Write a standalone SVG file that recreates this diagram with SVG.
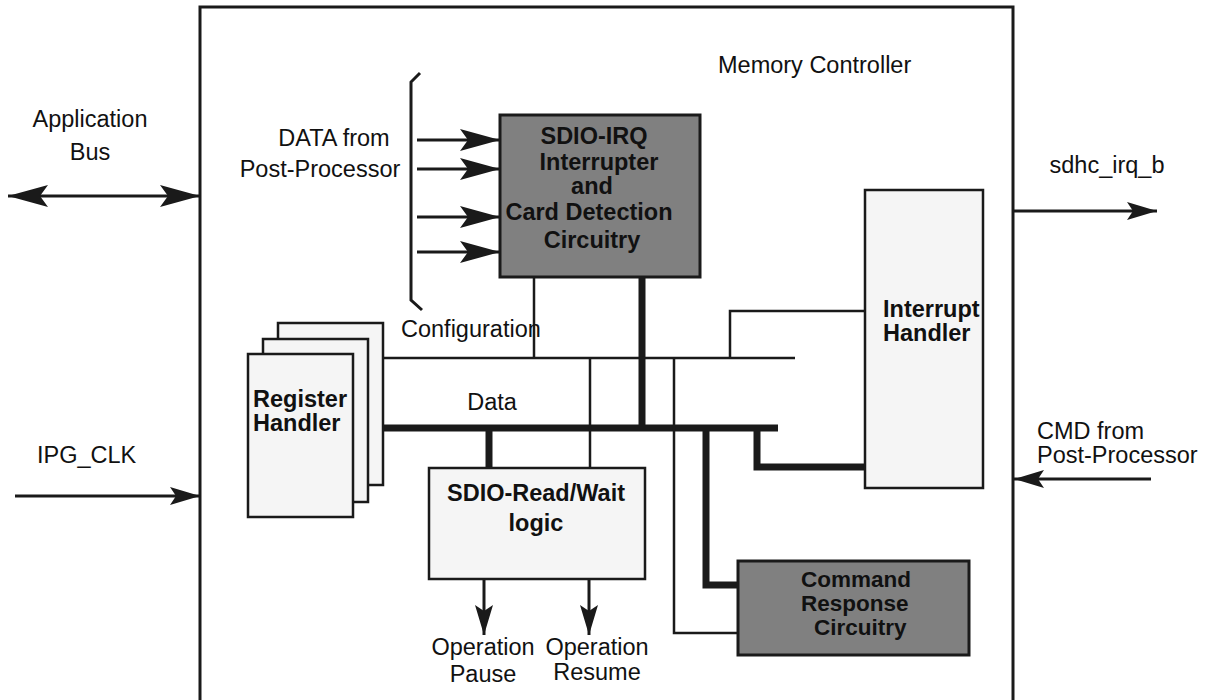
<svg xmlns="http://www.w3.org/2000/svg" width="1208" height="700" viewBox="0 0 1208 700">
<style>
text{font-family:"Liberation Sans",Arial,Helvetica,sans-serif;font-size:23.5px;fill:#111}
.b{font-weight:bold}
.m{text-anchor:middle}
.s{font-size:22.5px}
.thin{stroke:#1a1a1a;stroke-width:2.5;fill:none}
.thick{stroke:#1a1a1a;stroke-width:7;fill:none}
.sig{stroke:#1a1a1a;stroke-width:3;fill:none}
.dark{fill:#808080;stroke:#1a1a1a;stroke-width:3}
.light{fill:#f5f5f5;stroke:#1a1a1a;stroke-width:2.5}
</style>
<defs>
<marker id="big" viewBox="0 0 40 22" markerUnits="userSpaceOnUse" markerWidth="40" markerHeight="22" refX="40" refY="11" orient="auto-start-reverse">
<path d="M0,0 L40,11 L0,22 L8,11 z" fill="#1a1a1a"/>
</marker>
<marker id="sm" viewBox="0 0 30 18" markerUnits="userSpaceOnUse" markerWidth="30" markerHeight="18" refX="30" refY="9" orient="auto-start-reverse">
<path d="M0,0 L30,9 L0,18 L6,9 z" fill="#1a1a1a"/>
</marker>
</defs>
<rect width="1208" height="700" fill="#fff"/>

<g id="memory-controller">
<rect x="200" y="7" width="813" height="700" fill="none" stroke="#1a1a1a" stroke-width="3"/>
<text x="718" y="73">Memory Controller</text>
</g>

<g id="connectors">
<line class="sig" x1="8" y1="196" x2="200" y2="196" marker-start="url(#big)" marker-end="url(#big)"/>
<line class="sig" x1="15" y1="496" x2="200" y2="496" marker-end="url(#sm)"/>
<line class="sig" x1="1013" y1="211" x2="1157" y2="211" marker-end="url(#sm)"/>
<line class="sig" x1="1151" y1="479" x2="1014" y2="479" marker-end="url(#sm)"/>
<path class="sig" d="M420,73 L411,82 L411,300 L422,310"/>
<line class="sig" x1="417" y1="140" x2="500" y2="140" marker-end="url(#big)"/>
<line class="sig" x1="417" y1="169" x2="500" y2="169" marker-end="url(#big)"/>
<line class="sig" x1="417" y1="217" x2="500" y2="217" marker-end="url(#big)"/>
<line class="sig" x1="417" y1="252" x2="500" y2="252" marker-end="url(#big)"/>
<line class="thin" x1="534" y1="277" x2="534" y2="358"/>
<line class="thick" x1="642" y1="277" x2="642" y2="428"/>
<line class="thin" x1="383" y1="358" x2="795" y2="358"/>
<line class="thick" x1="383" y1="428" x2="778" y2="428"/>
<line class="thin" x1="590" y1="358" x2="590" y2="468"/>
<line class="thick" x1="489" y1="428" x2="489" y2="468"/>
<path class="thin" d="M730,358 L730,311 L864,311"/>
<path class="thin" d="M674,358 L674,633 L738,633"/>
<path class="thick" d="M706,428 L706,585 L738,585"/>
<path class="thick" d="M757,428 L757,467 L864,467"/>
<line class="sig" x1="484" y1="580" x2="484" y2="635" marker-end="url(#sm)"/>
<line class="sig" x1="589" y1="580" x2="589" y2="635" marker-end="url(#sm)"/>
</g>

<g id="labels">
<text class="m" x="90" y="127">Application</text>
<text class="m" x="90" y="160">Bus</text>
<text x="37" y="463">IPG_CLK</text>
<text class="m" x="334" y="146">DATA from</text>
<text class="m" x="320" y="177">Post-Processor</text>
<text x="401" y="337">Configuration</text>
<text class="m" x="492" y="410">Data</text>
<text class="m" x="1107" y="173">sdhc_irq_b</text>
<text x="1037" y="439">CMD from</text>
<text x="1037" y="463">Post-Processor</text>
<text class="m" x="483" y="655">Operation</text>
<text class="m" x="483" y="682">Pause</text>
<text class="m" x="597" y="655">Operation</text>
<text class="m" x="597" y="680">Resume</text>
</g>

<g id="sdio-irq">
<rect class="dark" x="500" y="115" width="200" height="162"/>
<text class="b m" x="594" y="144">SDIO-IRQ</text>
<text class="b m" x="599" y="170">Interrupter</text>
<text class="b m" x="592" y="194">and</text>
<text class="b m" x="589" y="220">Card Detection</text>
<text class="b m" x="592" y="248">Circuitry</text>
</g>

<g id="register-handler">
<rect class="light" x="278" y="323" width="105" height="162"/>
<rect class="light" x="263" y="339" width="105" height="163"/>
<rect class="light" x="248" y="354" width="105" height="163"/>
<text class="b" x="253" y="407">Register</text>
<text class="b" x="253" y="431">Handler</text>
</g>

<g id="interrupt-handler">
<rect class="light" x="865" y="190" width="118" height="298"/>
<text class="b" x="883" y="317">Interrupt</text>
<text class="b" x="883" y="341">Handler</text>
</g>

<g id="sdio-read-wait">
<rect class="light" x="429" y="468" width="216" height="111"/>
<text class="b m" x="536" y="501">SDIO-Read/Wait</text>
<text class="b m" x="536" y="531">logic</text>
</g>

<g id="command-response">
<rect class="dark" x="738" y="561" width="231" height="94"/>
<text class="b s" x="801" y="587">Command</text>
<text class="b s" x="801" y="611">Response</text>
<text class="b s" x="814" y="635">Circuitry</text>
</g>
</svg>
